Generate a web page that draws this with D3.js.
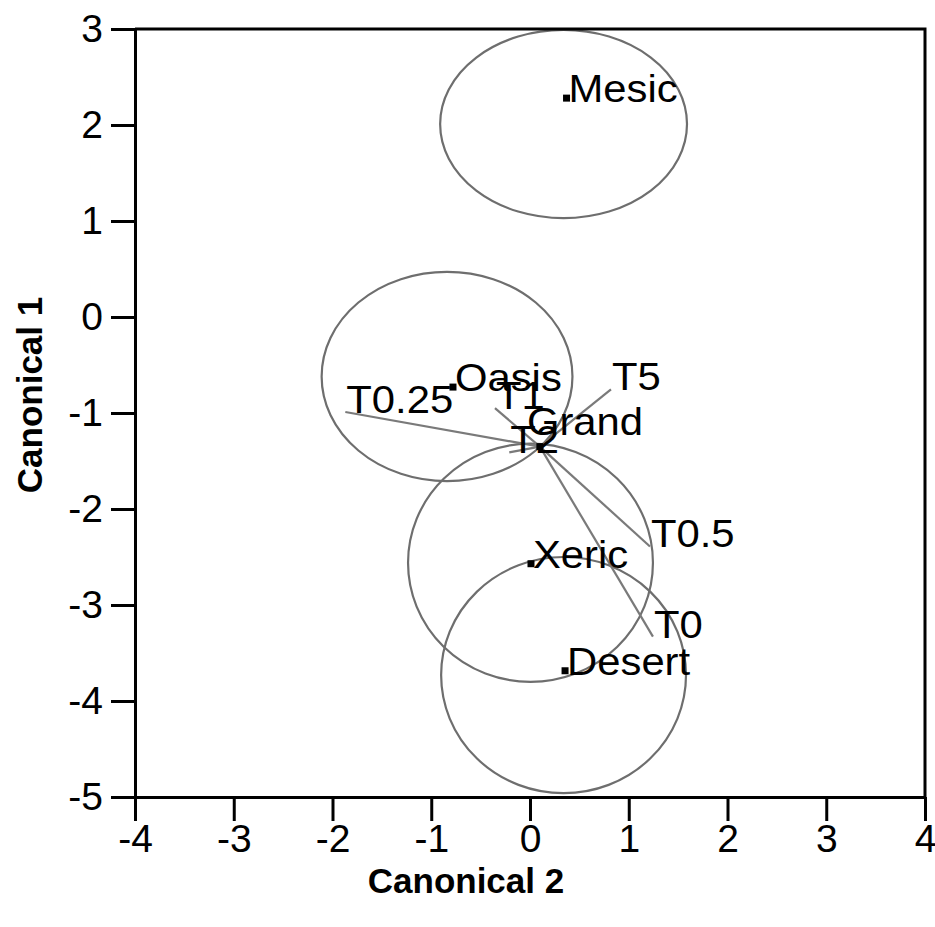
<!DOCTYPE html>
<html>
<head>
<meta charset="utf-8">
<script src="https://cdn.jsdelivr.net/npm/d3@7"></script>
<style>
  html, body { margin: 0; padding: 0; background: #fff; }
  svg { display: block; font-family: Arial, "Liberation Sans", sans-serif; }
</style>
</head>
<body>
<svg id="chart" width="935" height="927"></svg>
<script>
// Group centroids on the two canonical axes
const groups  = ["Mesic", "Oasis", "Xeric", "Desert"];
const groupC2 = [0.37, -0.78, 0.01, 0.355];
const groupC1 = [2.28, -0.73, -2.57, -3.685];

// Confidence regions around each group (centre and radii in axis units)
const regionC2 = [0.34, -0.84, 0.005, 0.34];
const regionC1 = [2.01, -0.62, -2.56, -3.73];
const regionR2 = [1.25, 1.27, 1.24, 1.24];
const regionR1 = [0.98, 1.09, 1.24, 1.23];

// Grand mean
const grandC2 = 0.10;
const grandC1 = -1.35;

// Treatment vectors drawn from the grand mean
const vectors  = ["T0.25", "T5", "T1", "T2", "T0.5", "T0"];
const vectorC2 = [-1.87, 0.82, -0.355, -0.21, 1.215, 1.245];
const vectorC1 = [-0.99, -0.755, -0.95, -1.41, -2.39, -3.33];

// Axis ticks
const xTicks = [-4, -3, -2, -1, 0, 1, 2, 3, 4];
const yTicks = [-5, -4, -3, -2, -1, 0, 1, 2, 3];

const svg = d3.select("#chart");
const mLeft = 135, mRight = 925, mTop = 29, mBottom = 797;

const x = d3.scaleLinear().domain([-4, 4]).range([mLeft, mRight]);
const y = d3.scaleLinear().domain([-5, 3]).range([mBottom, mTop]);

svg.append("rect").attr("width", 935).attr("height", 927).attr("fill", "#fff");

// regions
svg.append("g").selectAll("ellipse")
  .data(groups.map((g, i) => ({ g, cx: regionC2[i], cy: regionC1[i], rx: regionR2[i], ry: regionR1[i] })))
  .join("ellipse")
  .attr("cx", d => x(d.cx))
  .attr("cy", d => y(d.cy))
  .attr("rx", d => x(d.rx) - x(0))
  .attr("ry", d => y(0) - y(d.ry))
  .attr("fill", "none")
  .attr("stroke", "#6e6e6e")
  .attr("stroke-width", 2.2);

// vectors
const vec = vectors.map((n, i) => ({ n, x: vectorC2[i], y: vectorC1[i] }));
svg.append("g").selectAll("line")
  .data(vec)
  .join("line")
  .attr("x1", x(grandC2)).attr("y1", y(grandC1))
  .attr("x2", d => x(d.x)).attr("y2", d => y(d.y))
  .attr("stroke", "#7a7a7a")
  .attr("stroke-width", 2.2);

// group markers
const pts = groups.map((g, i) => ({ g, x: groupC2[i], y: groupC1[i] }));
const ms = 7;
svg.append("g").selectAll("rect")
  .data(pts.concat([{ g: "Grand", x: grandC2, y: grandC1 }]))
  .join("rect")
  .attr("x", d => x(d.x) - ms / 2)
  .attr("y", d => y(d.y) - ms / 2)
  .attr("width", ms).attr("height", ms)
  .attr("fill", "#000");

// labels (slightly widened glyphs)
const labelFont = 38, stretch = 1.1;
function label(g, px, py, txt) {
  g.append("text")
    .attr("transform", `translate(${px},${py}) scale(${stretch},1)`)
    .attr("font-size", labelFont)
    .attr("fill", "#000")
    .text(txt);
}
const labels = svg.append("g");
pts.forEach(d => label(labels, x(d.x) + 2, y(d.y) + 4, d.g));
label(labels, x(grandC2) - 13, y(grandC1) - 12, "Grand");
vec.forEach(d => label(labels, x(d.x) + 1, y(d.y) + 1, d.n));

// axes
const tickFont = 39;
const yAxis = svg.append("g")
  .attr("transform", `translate(${mLeft},0)`)
  .call(d3.axisLeft(y).tickValues(yTicks).tickSize(24).tickSizeOuter(0).tickPadding(8).tickFormat(d3.format("d")));
const xAxis = svg.append("g")
  .attr("transform", `translate(0,${mBottom})`)
  .call(d3.axisBottom(x).tickValues(xTicks).tickSize(24).tickSizeOuter(0).tickPadding(3).tickFormat(d3.format("d")));

[yAxis, xAxis].forEach(a => {
  a.selectAll("path, line").attr("stroke", "#000").attr("stroke-width", 3);
  a.selectAll("text").attr("font-size", tickFont).attr("fill", "#000")
    .attr("font-family", "Arial, 'Liberation Sans', sans-serif")
    .text(function() { return this.textContent.replace("\u2212", "-"); });
});

// top and right frame
svg.append("path")
  .attr("d", `M${mLeft},${mTop}H${mRight}V${mBottom}`)
  .attr("fill", "none")
  .attr("stroke", "#000")
  .attr("stroke-width", 3);

// axis titles
svg.append("text")
  .attr("x", 466).attr("y", 893)
  .attr("text-anchor", "middle")
  .attr("font-size", 35).attr("font-weight", "bold")
  .text("Canonical 2");

svg.append("text")
  .attr("transform", "translate(42,395) rotate(-90)")
  .attr("text-anchor", "middle")
  .attr("font-size", 35).attr("font-weight", "bold")
  .text("Canonical 1");
</script>
</body>
</html>
